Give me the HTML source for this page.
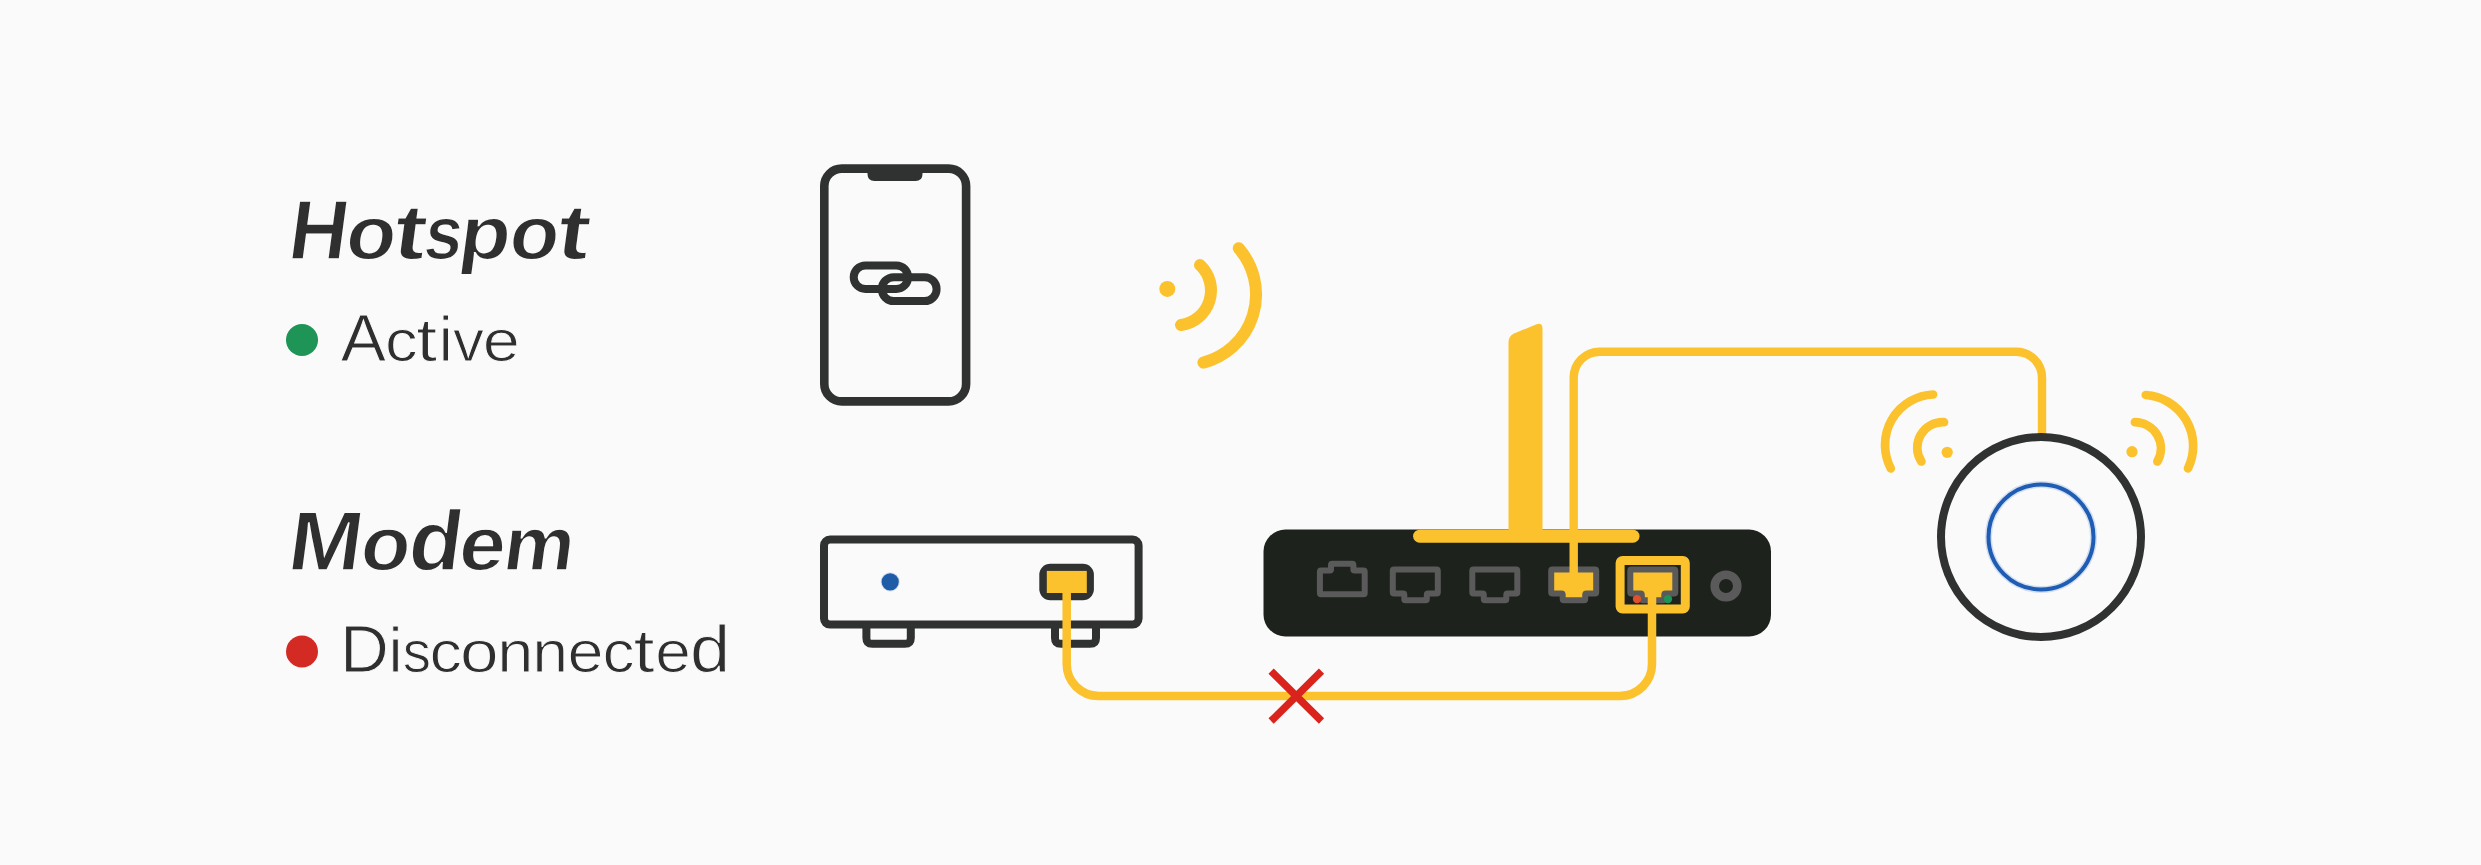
<!DOCTYPE html>
<html><head><meta charset="utf-8"><style>
html,body{margin:0;padding:0;background:#fafafa;width:2481px;height:865px;overflow:hidden}
svg{display:block;font-family:"Liberation Sans",sans-serif}
</style></head><body>
<svg width="2481" height="865" viewBox="0 0 2481 865">
<rect x="824.3" y="168.6" width="141.8" height="232.8" rx="17.5" fill="none" stroke="#303131" stroke-width="8.6"/>
<path d="M867.5,166 H922.5 V174 Q922.5,181 915.5,181 H874.5 Q867.5,181 867.5,174 Z" fill="#303131"/>
<rect x="853.7" y="265.4" width="54.4" height="23.6" rx="11.8" fill="none" stroke="#303131" stroke-width="8"/>
<rect x="881.8" y="277.2" width="54.8" height="23.9" rx="11.95" fill="none" stroke="#303131" stroke-width="8"/>
<circle cx="1167.3" cy="288.9" r="8" fill="#fbc22d"/>
<path d="M1200.0,265.0 A34.9,34.9 0 0 1 1181.0,325.0" fill="none" stroke="#fbc22d" stroke-width="12" stroke-linecap="round"/>
<path d="M1238.7,248.3 A70.3,70.3 0 0 1 1203.4,362.6" fill="none" stroke="#fbc22d" stroke-width="12" stroke-linecap="round"/>
<rect x="824" y="539.5" width="314.6" height="85.1" rx="6" fill="none" stroke="#303131" stroke-width="8"/>
<path d="M866.4,626 V638 Q866.4,643.8 872.4,643.8 H904.8 Q910.8,643.8 910.8,638 V626" fill="none" stroke="#303131" stroke-width="8"/>
<path d="M1055,626 V638 Q1055,643.8 1061,643.8 H1090 Q1096,643.8 1096,638 V626" fill="none" stroke="#303131" stroke-width="8"/>
<circle cx="890.2" cy="581.8" r="9.6" fill="#d3deef"/>
<circle cx="890.2" cy="581.8" r="8.6" fill="#1f5ca8"/>
<rect x="1039.3" y="563.8" width="54.6" height="36.4" rx="11" fill="#303131"/>
<rect x="1046.8" y="570.9" width="40" height="22.1" fill="#fbc22d"/>
<rect x="1263.5" y="529.5" width="507.5" height="107" rx="22" fill="#1d221c"/>
<path d="M1508.5,536 V342 Q1508.5,336 1514,333.5 L1536,324.5 Q1542.5,322 1542.5,329 V536 Z" fill="#fbc22d"/>
<line x1="1419.6" y1="536.2" x2="1633" y2="536.2" stroke="#fbc22d" stroke-width="13" stroke-linecap="round"/>
<path d="M1321.20,570.50 L1329.70,570.50 Q1331.00,570.50 1331.00,569.20 L1331.00,565.10 Q1331.00,563.80 1332.30,563.80 L1352.10,563.80 Q1353.40,563.80 1353.40,565.10 L1353.40,569.20 Q1353.40,570.50 1354.70,570.50 L1363.40,570.50 Q1364.70,570.50 1364.70,571.80 L1364.70,593.00 Q1364.70,594.30 1363.40,594.30 L1321.20,594.30 Q1319.90,594.30 1319.90,593.00 L1319.90,571.80 Q1319.90,570.50 1321.20,570.50 Z" fill="none" stroke="#5a5a5a" stroke-width="6" stroke-linejoin="round"/>
<path d="M1394.10,569.40 L1436.50,569.40 Q1437.80,569.40 1437.80,570.70 L1437.80,592.30 Q1437.80,593.60 1436.50,593.60 L1428.10,593.60 Q1426.80,593.60 1426.80,594.90 L1426.80,599.00 Q1426.80,600.30 1425.50,600.30 L1405.60,600.30 Q1404.30,600.30 1404.30,599.00 L1404.30,594.90 Q1404.30,593.60 1403.00,593.60 L1394.10,593.60 Q1392.80,593.60 1392.80,592.30 L1392.80,570.70 Q1392.80,569.40 1394.10,569.40 Z" fill="none" stroke="#5a5a5a" stroke-width="6" stroke-linejoin="round"/>
<path d="M1473.60,569.40 L1516.00,569.40 Q1517.30,569.40 1517.30,570.70 L1517.30,592.30 Q1517.30,593.60 1516.00,593.60 L1507.60,593.60 Q1506.30,593.60 1506.30,594.90 L1506.30,599.00 Q1506.30,600.30 1505.00,600.30 L1485.10,600.30 Q1483.80,600.30 1483.80,599.00 L1483.80,594.90 Q1483.80,593.60 1482.50,593.60 L1473.60,593.60 Q1472.30,593.60 1472.30,592.30 L1472.30,570.70 Q1472.30,569.40 1473.60,569.40 Z" fill="none" stroke="#5a5a5a" stroke-width="6" stroke-linejoin="round"/>
<path d="M1552.50,569.40 L1594.90,569.40 Q1596.20,569.40 1596.20,570.70 L1596.20,592.30 Q1596.20,593.60 1594.90,593.60 L1586.50,593.60 Q1585.20,593.60 1585.20,594.90 L1585.20,599.00 Q1585.20,600.30 1583.90,600.30 L1564.00,600.30 Q1562.70,600.30 1562.70,599.00 L1562.70,594.90 Q1562.70,593.60 1561.40,593.60 L1552.50,593.60 Q1551.20,593.60 1551.20,592.30 L1551.20,570.70 Q1551.20,569.40 1552.50,569.40 Z" fill="#fbc22d" stroke="#5a5a5a" stroke-width="6" stroke-linejoin="round"/>
<path d="M1631.60,569.40 L1674.00,569.40 Q1675.30,569.40 1675.30,570.70 L1675.30,592.30 Q1675.30,593.60 1674.00,593.60 L1665.60,593.60 Q1664.30,593.60 1664.30,594.90 L1664.30,599.00 Q1664.30,600.30 1663.00,600.30 L1643.10,600.30 Q1641.80,600.30 1641.80,599.00 L1641.80,594.90 Q1641.80,593.60 1640.50,593.60 L1631.60,593.60 Q1630.30,593.60 1630.30,592.30 L1630.30,570.70 Q1630.30,569.40 1631.60,569.40 Z" fill="#fbc22d" stroke="#5a5a5a" stroke-width="6" stroke-linejoin="round"/>
<rect x="1620.1" y="560.5" width="65.2" height="48.6" rx="2.5" fill="none" stroke="#fbc22d" stroke-width="9"/>
<circle cx="1637" cy="599.1" r="4.2" fill="#e0502a"/>
<circle cx="1668" cy="599.1" r="4.2" fill="#1e9457"/>
<circle cx="1726" cy="586" r="11.3" fill="none" stroke="#5a5a5a" stroke-width="8.6"/>
<path d="M1066.7,590 V664 A32,32 0 0 0 1098.7,696 H1620 A32,32 0 0 0 1652,664 V592" fill="none" stroke="#fbc22d" stroke-width="8.5"/>
<path d="M1573.7,575 V377.7 A26,26 0 0 1 1599.7,351.7 H2016 A26,26 0 0 1 2042,377.7 V436" fill="none" stroke="#fbc22d" stroke-width="8.4"/>
<path d="M1271.1,671.1 L1321.5,721 M1321.5,671.1 L1271.1,721" stroke="#d9231c" stroke-width="7.4"/>
<circle cx="2041" cy="537" r="100" fill="none" stroke="#303131" stroke-width="8"/>
<circle cx="2041" cy="537" r="52.5" fill="none" stroke="#d3deef" stroke-width="7"/>
<circle cx="2041" cy="537" r="52.5" fill="none" stroke="#1f5cb3" stroke-width="4"/>
<circle cx="1947.2" cy="452.3" r="5.6" fill="#fbc22d"/>
<path d="M1944.0,422.2 A25.4,25.4 0 0 0 1921.4,461.5" fill="none" stroke="#fbc22d" stroke-width="8.7" stroke-linecap="round"/>
<path d="M1933.0,394.5 A50.5,50.5 0 0 0 1890.8,468.4" fill="none" stroke="#fbc22d" stroke-width="8.7" stroke-linecap="round"/>
<circle cx="2132" cy="451.7" r="5.6" fill="#fbc22d"/>
<path d="M2134.9,422.2 A26.2,26.2 0 0 1 2157.4,461.5" fill="none" stroke="#fbc22d" stroke-width="8.7" stroke-linecap="round"/>
<path d="M2145.8,395.0 A51.1,51.1 0 0 1 2188.0,468.4" fill="none" stroke="#fbc22d" stroke-width="8.7" stroke-linecap="round"/>
<circle cx="302" cy="340" r="16" fill="#1e9457"/>
<circle cx="302" cy="651.5" r="16" fill="#d42a24"/>
<text y="0" font-weight="bold" fill="#2f2f2f" stroke="#fafafa" stroke-width="1.5" transform="translate(286.5,258.65) skewX(-7.6)"><tspan x="-0.28" font-size="84.30" textLength="58.67" lengthAdjust="spacingAndGlyphs">H</tspan><tspan x="57.03" font-size="75.82" textLength="50.07" lengthAdjust="spacingAndGlyphs">o</tspan><tspan x="104.51" font-size="78.33" textLength="32.48" lengthAdjust="spacingAndGlyphs">t</tspan><tspan x="135.43" font-size="75.76" textLength="37.72" lengthAdjust="spacingAndGlyphs">s</tspan><tspan x="170.27" font-size="75.62" textLength="51.38" lengthAdjust="spacingAndGlyphs">p</tspan><tspan x="220.46" font-size="75.82" textLength="49.60" lengthAdjust="spacingAndGlyphs">o</tspan><tspan x="268.01" font-size="78.33" textLength="32.48" lengthAdjust="spacingAndGlyphs">t</tspan></text>
<text y="0" font-weight="bold" fill="#2f2f2f" stroke="#fafafa" stroke-width="1.5" transform="translate(286.5,569.95) skewX(-7.6)"><tspan x="-0.76" font-size="84.01" textLength="73.61" lengthAdjust="spacingAndGlyphs">M</tspan><tspan x="71.86" font-size="76.01" textLength="49.48" lengthAdjust="spacingAndGlyphs">o</tspan><tspan x="119.52" font-size="84.87" textLength="53.10" lengthAdjust="spacingAndGlyphs">d</tspan><tspan x="169.89" font-size="76.01" textLength="46.48" lengthAdjust="spacingAndGlyphs">e</tspan><tspan x="214.40" font-size="75.94" textLength="70.72" lengthAdjust="spacingAndGlyphs">m</tspan></text>
<text y="0" fill="#2f2f2f" stroke="#fafafa" stroke-width="1" transform="translate(340,360.60)"><tspan x="0.87" font-size="66.57" textLength="45.27" lengthAdjust="spacingAndGlyphs">A</tspan><tspan x="44.92" font-size="58.73" textLength="32.70" lengthAdjust="spacingAndGlyphs">c</tspan><tspan x="76.16" font-size="60.17" textLength="20.90" lengthAdjust="spacingAndGlyphs">t</tspan><tspan x="98.84" font-size="63.21" textLength="14.04" lengthAdjust="spacingAndGlyphs">i</tspan><tspan x="112.99" font-size="58.30" textLength="30.92" lengthAdjust="spacingAndGlyphs">v</tspan><tspan x="142.87" font-size="58.73" textLength="37.10" lengthAdjust="spacingAndGlyphs">e</tspan></text>
<text y="0" fill="#2f2f2f" stroke="#fafafa" stroke-width="1" transform="translate(340,671.90)"><tspan x="0.05" font-size="67.01" textLength="48.89" lengthAdjust="spacingAndGlyphs">D</tspan><tspan x="48.55" font-size="63.62" textLength="14.13" lengthAdjust="spacingAndGlyphs">i</tspan><tspan x="62.63" font-size="58.89" textLength="28.21" lengthAdjust="spacingAndGlyphs">s</tspan><tspan x="89.44" font-size="58.73" textLength="32.47" lengthAdjust="spacingAndGlyphs">c</tspan><tspan x="119.98" font-size="58.73" textLength="38.63" lengthAdjust="spacingAndGlyphs">o</tspan><tspan x="157.19" font-size="58.73" textLength="36.13" lengthAdjust="spacingAndGlyphs">n</tspan><tspan x="192.32" font-size="58.73" textLength="35.87" lengthAdjust="spacingAndGlyphs">n</tspan><tspan x="227.45" font-size="58.73" textLength="36.03" lengthAdjust="spacingAndGlyphs">e</tspan><tspan x="262.57" font-size="58.73" textLength="32.12" lengthAdjust="spacingAndGlyphs">c</tspan><tspan x="293.60" font-size="60.79" textLength="21.11" lengthAdjust="spacingAndGlyphs">t</tspan><tspan x="315.38" font-size="58.73" textLength="35.56" lengthAdjust="spacingAndGlyphs">e</tspan><tspan x="350.07" font-size="67.48" textLength="40.19" lengthAdjust="spacingAndGlyphs">d</tspan></text>
</svg></body></html>
